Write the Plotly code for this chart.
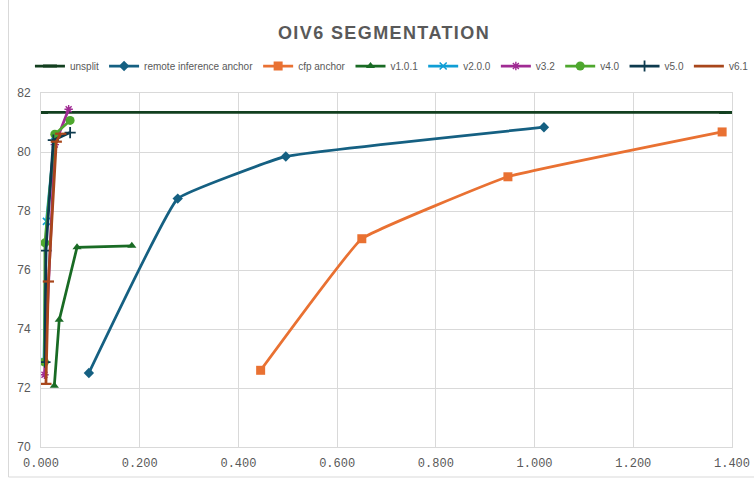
import plotly.graph_objects as go

# ---- data ----
unsplit_x = [0.0, 1.388]
unsplit_y = [81.34, 81.34]

remote_x = [0.097, 0.277, 0.496, 1.019]
remote_y = [72.51, 78.42, 79.85, 80.84]

cfp_x = [0.445, 0.650, 0.946, 1.380]
cfp_y = [72.60, 77.06, 79.16, 80.68]

v101_x = [0.027, 0.037, 0.073, 0.184]
v101_y = [72.08, 74.31, 76.77, 76.82]

v200_x = [0.006, 0.011, 0.028]
v200_y = [72.90, 77.65, 80.55]

v32_x = [0.007, 0.028, 0.056]
v32_y = [72.45, 80.25, 81.45]

v40_x = [0.007, 0.008, 0.028, 0.059]
v40_y = [72.88, 76.92, 80.60, 81.07]

v50_x = [0.008, 0.010, 0.025, 0.059]
v50_y = [72.88, 76.66, 80.40, 80.66]

v61_x = [0.010, 0.015, 0.031, 0.040]
v61_y = [72.14, 75.61, 80.35, 80.62]

x_ticks = [0.0, 0.2, 0.4, 0.6, 0.8, 1.0, 1.2, 1.4]
y_ticks = [70, 72, 74, 76, 78, 80, 82]

# ---- figure ----
W, H = 754, 479
L, R, T, B = 41, 22, 93, 32
pw, ph = W - L - R, H - T - B

fig = go.Figure()

def add(name, xs, ys, color, symbol, msize, mline=0, shape="linear", lw=2.75):
    fig.add_trace(go.Scatter(
        x=xs, y=ys, name=name, mode="lines+markers",
        line=dict(color=color, width=lw, shape=shape, smoothing=0.25 if shape == "spline" else None),
        marker=dict(symbol=symbol, size=msize, color=color,
                    line=dict(color=color, width=mline)),
    ))

add("unsplit", unsplit_x, unsplit_y, "#123f1f", "line-ew", 10, mline=3)
add("remote inference anchor", remote_x, remote_y, "#156082", "diamond", 8, shape="spline")
add("cfp anchor", cfp_x, cfp_y, "#E97132", "square", 9, shape="spline")
add("v1.0.1", v101_x, v101_y, "#196B24", "triangle-up", 8)
add("v2.0.0", v200_x, v200_y, "#0F9ED5", "x-thin", 7, mline=1.6)
add("v3.2", v32_x, v32_y, "#A02B93", "asterisk", 7, mline=1.4)
add("v4.0", v40_x, v40_y, "#4EA72E", "circle", 9)
add("v5.0", v50_x, v50_y, "#0D3A4E", "cross-thin", 8, mline=1.8)
add("v6.1", v61_x, v61_y, "#A8461B", "line-ew", 8, mline=2.2)

grid = "#d9d9d9"
tick_font_color = "#595959"

fig.update_layout(
    width=W, height=H,
    margin=dict(l=L, r=R, t=T, b=B, pad=0, autoexpand=False),
    paper_bgcolor="white", plot_bgcolor="white",
    title=dict(
        text='<span style="letter-spacing:1.4px">OIV6 SEGMENTATION</span>',
        x=384 / W, xanchor="center", xref="container",
        y=1 - 33 / H, yanchor="middle", yref="container",
        font=dict(family="Liberation Sans", size=18, color="#595959", weight="bold"),
    ),
    legend=dict(
        orientation="h", x=-0.016, xanchor="left",
        y=(H - B - 66) / ph, yanchor="middle",
        font=dict(family="Liberation Sans", size=10, color="#595959"),
        bgcolor="rgba(0,0,0,0)", itemwidth=30,
    ),
    showlegend=True,
    xaxis=dict(
        range=[0, 1.4], tickvals=x_ticks, tickformat=".3f",
        showgrid=True, gridcolor=grid, gridwidth=1,
        showline=True, linecolor=grid, linewidth=1, mirror=True,
        zeroline=False, ticks="outside", ticklen=5, tickcolor="rgba(0,0,0,0)",
        tickfont=dict(family="Liberation Mono", size=12, color=tick_font_color),
    ),
    yaxis=dict(
        range=[70, 82], tickvals=y_ticks,
        showgrid=True, gridcolor=grid, gridwidth=1,
        showline=True, linecolor=grid, linewidth=1, mirror=True,
        zeroline=False, ticks="outside", ticklen=7, tickcolor="rgba(0,0,0,0)",
        tickfont=dict(family="Liberation Sans", size=12, color=tick_font_color),
    ),
    shapes=[dict(
        type="rect", xref="paper", yref="paper", layer="below",
        x0=(8.5 - L) / pw, x1=(W + 10 - L) / pw,
        y0=(H - B - 477) / ph, y1=(H - B + 10) / ph + 1.5,
        line=dict(color="#d9d9d9", width=1), fillcolor="rgba(0,0,0,0)",
    )],
)

fig.write_html(
    "out.html",
    config={"displayModeBar": False},
    post_script="document.body.style.margin='0';document.body.style.overflow='hidden';",
)
